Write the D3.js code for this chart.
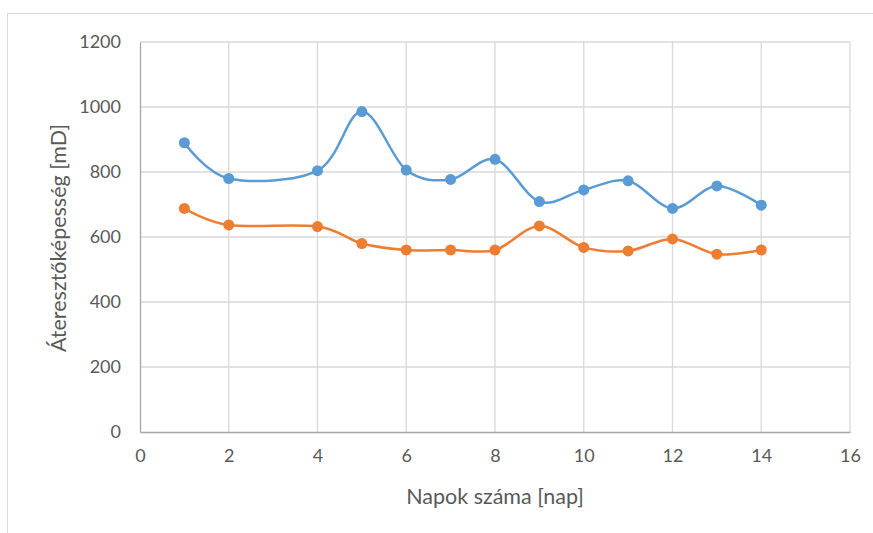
<!DOCTYPE html>
<html><head><meta charset="utf-8">
<script src="https://cdn.jsdelivr.net/npm/d3@7"></script>
<style>
body{margin:0;background:#fff;}
svg text{font-family:Lato,"Open Sans",sans-serif;fill:#595959;}
</style></head>
<body><svg id="c" width="873" height="533"></svg>
<script>
const days = [1,2,4,5,6,7,8,9,10,11,12,13,14];
const seriesBlue = [890,780,804,986,806,777,839,709,745,773,688,757,698];
const seriesOrange = [688,637,632,580,560,560,560,634,568,557,594,547,560];
const xTicks = [0,2,4,6,8,10,12,14,16];
const yTicks = [0,200,400,600,800,1000,1200];

const svg = d3.select("#c");
svg.append("rect").attr("x",7.5).attr("y",13.5).attr("width",870).attr("height",525)
  .attr("fill","#fff").attr("stroke","#d9d9d9");

const x = d3.scaleLinear().domain([0,16]).range([140,850]);
const y = d3.scaleLinear().domain([0,1200]).range([432,42]);

// gridlines
svg.append("g").selectAll("line").data(yTicks.slice(1)).join("line")
  .attr("x1",140).attr("x2",850).attr("y1",d=>y(d)).attr("y2",d=>y(d))
  .attr("stroke","#d9d9d9").attr("stroke-width",1.3);
svg.append("g").selectAll("line").data(xTicks.slice(1)).join("line")
  .attr("y1",42).attr("y2",432).attr("x1",d=>x(d)).attr("x2",d=>x(d))
  .attr("stroke","#d9d9d9").attr("stroke-width",1.3);

// axes
const xa = svg.append("g").attr("transform","translate(0,432)")
  .call(d3.axisBottom(x).tickValues(xTicks).tickFormat(d3.format("d")).tickSize(0).tickPadding(17));
const ya = svg.append("g").attr("transform","translate(140,0)")
  .call(d3.axisLeft(y).tickValues(yTicks).tickFormat(d3.format("d")).tickSize(0).tickPadding(19));
[xa,ya].forEach(a=>{
  a.select(".domain").attr("stroke","#a6a6a6").attr("stroke-width",1.3);
  a.selectAll("text").attr("font-size",18).attr("fill","#595959");
});

// titles
svg.append("text").attr("x",495).attr("y",504).attr("text-anchor","middle")
  .attr("font-size",21.5).text("Napok száma [nap]");
svg.append("text").attr("transform","translate(66,238) rotate(-90)")
  .attr("text-anchor","middle").attr("font-size",21.5).text("Áteresztőképesség [mD]");

const line = d3.line().x(d=>x(d[0])).y(d=>y(d[1])).curve(d3.curveCardinal.tension(0));
const series = [
  {vals:seriesBlue,color:"#5b9bd5"},
  {vals:seriesOrange,color:"#ed7d31"}
];
series.forEach(s=>{
  const pts = days.map((d,i)=>[d,s.vals[i]]);
  svg.append("path").datum(pts).attr("d",line).attr("fill","none")
    .attr("stroke",s.color).attr("stroke-width",2.5);
  svg.append("g").selectAll("circle").data(pts).join("circle")
    .attr("cx",d=>x(d[0])).attr("cy",d=>y(d[1])).attr("r",5.5)
    .attr("fill",s.color);
});
</script></body></html>
